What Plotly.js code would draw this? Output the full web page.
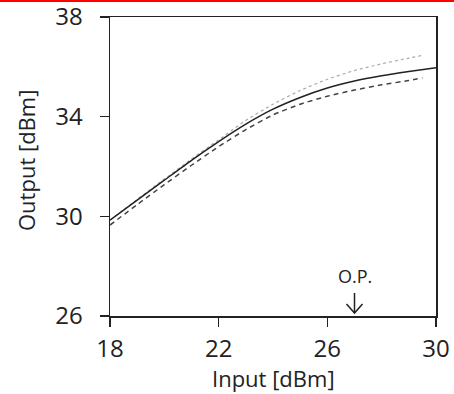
<!DOCTYPE html>
<html>
<head>
<meta charset="utf-8">
<script src="https://cdn.plot.ly/plotly-3.0.1.min.js"></script>
<style>
html,body{margin:0;padding:0;background:#fff;}
#chart{width:454px;height:394px;position:relative;}
#redline{position:absolute;left:0;top:0;width:454px;height:2px;background:#ff0000;z-index:10;}
</style>
</head>
<body>
<div id="redline"></div>
<div id="chart"></div>
<script>
// Input power [dBm]
const inputSolid  = [18, 19, 20, 21, 22, 23, 24, 25, 26, 27, 28, 29, 30];
const outputSolid = [29.85, 30.65, 31.45, 32.25, 33.0, 33.7, 34.3, 34.77, 35.15, 35.43, 35.64, 35.81, 35.96];

const inputDotted  = [18, 19, 20, 21, 22, 23, 24, 25, 26, 27, 28, 29, 29.5];
const outputDotted = [29.85, 30.68, 31.5, 32.3, 33.07, 33.85, 34.5, 35.05, 35.5, 35.85, 36.12, 36.35, 36.46];

const inputDashed  = [18, 19, 20, 21, 22, 23, 24, 25, 26, 27, 28, 29, 29.5];
const outputDashed = [29.65, 30.47, 31.27, 32.05, 32.8, 33.48, 34.07, 34.5, 34.82, 35.07, 35.28, 35.45, 35.56];

const xTicks = [18, 22, 26, 30];
const yTicks = [26, 30, 34, 38];

const xTitle = 'Input [dBm]';
const yTitle = 'Output [dBm]';
const opInput = 27;
const opLabel = 'O.P.';

const FONT = 'Open Sans, Noto Sans, sans-serif';

const traces = [
  {x: inputDotted, y: outputDotted, mode: 'lines', line: {color: '#aaaaaa', width: 1.2, dash: 'dot', shape: 'spline', smoothing: 0.6}, hoverinfo: 'skip'},
  {x: inputDashed, y: outputDashed, mode: 'lines', line: {color: '#444444', width: 1.5, dash: '5px,4px', shape: 'spline', smoothing: 0.6}, hoverinfo: 'skip'},
  {x: inputSolid, y: outputSolid, mode: 'lines', line: {color: '#222222', width: 1.5, shape: 'spline', smoothing: 0.6}, hoverinfo: 'skip'}
];

const layout = {
  width: 454, height: 394,
  margin: {l: 110, r: 18, t: 17, b: 78},
  paper_bgcolor: '#fff', plot_bgcolor: '#fff',
  showlegend: false,
  font: {family: FONT, color: '#222'},
  xaxis: {
    range: [18, 30], tickvals: xTicks, ticktext: xTicks.map(String),
    showgrid: false, zeroline: false,
    showline: true, mirror: true, linecolor: '#222', linewidth: 1.5,
    ticks: 'outside', ticklen: 9, tickwidth: 1.5, tickcolor: '#222',
    ticklabelstandoff: 2, ticklabeloverflow: 'allow',
    tickfont: {size: 24, family: FONT, color: '#222'},
    automargin: false
  },
  yaxis: {
    range: [26, 38], tickvals: yTicks, ticktext: yTicks.map(String),
    showgrid: false, zeroline: false,
    showline: true, mirror: true, linecolor: '#222', linewidth: 1.5,
    ticks: 'outside', ticklen: 9, tickwidth: 1.5, tickcolor: '#222',
    ticklabelstandoff: 12, ticklabeloverflow: 'allow',
    tickfont: {size: 24, family: FONT, color: '#222'},
    automargin: false
  },
  annotations: [
    {x: 0.5, y: -0.207, xref: 'paper', yref: 'paper', text: xTitle, showarrow: false,
     xanchor: 'center', yanchor: 'middle', font: {size: 22, family: FONT, color: '#222'}},
    {x: -0.2577, y: 0.5217, xref: 'paper', yref: 'paper', text: yTitle, showarrow: false,
     textangle: -90, xanchor: 'center', yanchor: 'middle', font: {size: 22, family: FONT, color: '#222'}},
    {x: opInput, y: 26, xref: 'x', yref: 'y', text: opLabel, showarrow: false,
     yanchor: 'bottom', yshift: 26, font: {size: 18, family: FONT, color: '#222'}}
  ],
  shapes: [
    {type: 'path', xref: 'x', yref: 'y', xsizemode: 'pixel', ysizemode: 'pixel',
     xanchor: opInput, yanchor: 26,
     path: 'M0,3 L0,23 M-8,12 L0,3 L8,12',
     line: {color: '#222', width: 1.5}}
  ]
};

Plotly.newPlot('chart', traces, layout, {staticPlot: true, displayModeBar: false});
</script>
</body>
</html>
